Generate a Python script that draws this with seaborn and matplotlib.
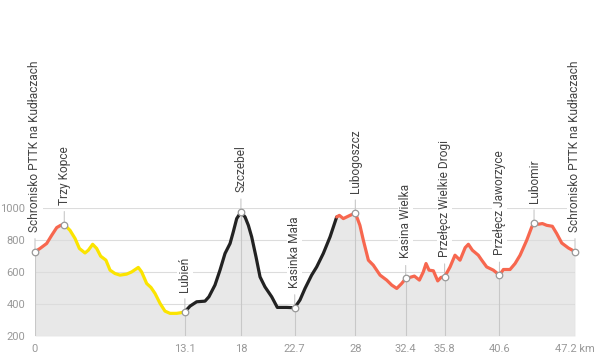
import numpy as np
import pandas as pd
import matplotlib
matplotlib.use("Agg")
import matplotlib.pyplot as plt
import seaborn as sns

# ---- data ----
km = [0, 0.44, 1.02, 1.46, 1.9, 2.24, 2.56, 3.06, 3.5, 3.88, 4.37, 4.66, 5.04, 5.39, 5.74,
      6.2, 6.56, 6.99, 7.43, 8.0, 8.45, 9.03, 9.32, 9.76, 10.14, 10.49, 10.93, 11.36, 11.8,
      12.38, 12.76, 13.1, 13.55, 14.13, 14.86, 15.2, 15.73, 16.17, 16.61, 17.05, 17.33, 17.63,
      18.0, 18.36, 18.65, 18.94, 19.32, 19.67, 20.1, 20.69, 21.18, 22.0, 22.7, 23.16, 23.6,
      24.18, 24.62, 25.2, 25.79, 26.37, 26.6, 26.95, 27.53, 28.0, 28.4, 28.7, 29.14, 29.57,
      30.16, 30.74, 31.18, 31.62, 32.05, 32.4, 32.78, 33.16, 33.6, 33.94, 34.18, 34.44, 34.82,
      35.2, 35.49, 35.8, 36.28, 36.71, 37.15, 37.6, 37.88, 38.23, 38.75, 39.05, 39.48, 40.06,
      40.6, 40.94, 41.52, 41.96, 42.4, 42.98, 43.42, 43.62, 44.0, 44.35, 44.73, 45.22, 45.6,
      46.04, 46.62, 47.2]
elev = [725, 745, 776, 827, 875, 889, 894, 858, 807, 745, 717, 734, 771, 745, 697,
        672, 610, 589, 579, 585, 599, 627, 599, 527, 502, 465, 403, 355, 341,
        341, 345, 351, 386, 413, 417, 444, 517, 610, 714, 776, 848, 931,
        972, 941, 889, 817, 692, 568, 506, 444, 378, 378, 376, 424, 496,
        579, 630, 714, 817, 941, 951, 931, 951, 966, 889, 796, 672, 641,
        579, 548, 517, 496, 527, 558, 565, 573, 548, 599, 651, 610, 606,
        543, 565, 568, 630, 703, 672, 750, 771, 734, 703, 672, 630, 610,
        579, 614, 614, 651, 703, 796, 879, 904, 896, 900, 889, 883, 838,
        779, 748, 725]

seg_breaks = [0, 2.56, 13.1, 26.37, 47.2]
seg_colors = ["#f7674f", "#fbe400", "#222222", "#f7674f"]

wp_names = ["Schronisko PTTK na Kudłaczach", "Trzy Kopce", "Lubień", "Szczebel",
            "Kasinka Mała", "Lubogoszcz", "Kasina Wielka", "Przełęcz Wielkie Drogi",
            "Przełęcz Jaworzyce", "Lubomir", "Schronisko PTTK na Kudłaczach"]
wp_km = [0, 2.56, 13.1, 18.0, 22.7, 28.0, 32.4, 35.8, 40.6, 43.62, 47.2]
wp_elev = [725, 894, 351, 972, 376, 966, 558, 568, 579, 904, 725]

xtick_vals = [0, 13.1, 18, 22.7, 28, 32.4, 35.8, 40.6, 47.2]
xtick_labels = ["0", "13.1", "18", "22.7", "28", "32.4", "35.8", "40.6", "47.2 km"]
ytick_vals = [200, 400, 600, 800, 1000]

# ---- build frames ----
km_a = np.array(km)
el_a = np.array(elev)
rows = []
for i in range(len(seg_colors)):
    lo, hi = seg_breaks[i], seg_breaks[i + 1]
    m = (km_a >= lo - 1e-9) & (km_a <= hi + 1e-9)
    for k, e in zip(km_a[m], el_a[m]):
        rows.append({"km": k, "elev": e, "seg": i})
df = pd.DataFrame(rows)

sns.set_theme(style="white")
plt.rcParams["font.family"] = ["Roboto", "DejaVu Sans"]

fig = plt.figure(figsize=(6.03, 3.60), dpi=100)
ax = fig.add_axes([35 / 603, 24 / 360, 540 / 603, (336 - 207.5) / 360])

ax.fill_between(km, elev, 200, color="#e8e8e8", lw=0, zorder=1)
for y in ytick_vals:
    ax.axhline(y, color="#dcdcdc", lw=0.8, zorder=1.5)

# vertical grid lines at x ticks, from baseline up to the profile
tick_elev = np.interp(xtick_vals, km, elev)
ax.vlines(xtick_vals, 200, tick_elev, color="#c8c8c8", lw=0.8, zorder=1.6)

sns.lineplot(data=df, x="km", y="elev", hue="seg", palette=seg_colors,
             estimator=None, sort=True, lw=2.3, legend=False, ax=ax, zorder=3)

ax.scatter(wp_km, wp_elev, s=22, facecolor="white", edgecolor="#999999",
           linewidth=0.9, zorder=5, clip_on=False)

for name, k, e in zip(wp_names, wp_km, wp_elev):
    ax.annotate("", xy=(k, e), xytext=(0, 13), textcoords="offset pixels",
                arrowprops=dict(arrowstyle="-", color="#c8c8c8", lw=0.8,
                                shrinkA=0, shrinkB=0), zorder=1.6,
                annotation_clip=False)
    ax.annotate(name, xy=(k, e), xytext=(0, 20), textcoords="offset pixels",
                rotation=90, ha="center", va="bottom", fontsize=8.6,
                color="#444444", annotation_clip=False, zorder=6,
                bbox=dict(boxstyle="square,pad=0.1", fc="white", ec="none"))

ax.set_xlim(0, 47.2)
ax.set_ylim(200, 1000)
ax.set_xticks(xtick_vals)
ax.set_xticklabels(xtick_labels)
ax.set_yticks(ytick_vals)
ax.tick_params(axis="both", length=0, labelsize=8, colors="#999999")
ax.tick_params(axis="y", pad=7)
ax.tick_params(axis="x", pad=5.5)
ax.set_xlabel("")
ax.set_ylabel("")
for s in ax.spines.values():
    s.set_visible(False)
ax.patch.set_alpha(0)

fig.savefig("out.png", dpi=100)
